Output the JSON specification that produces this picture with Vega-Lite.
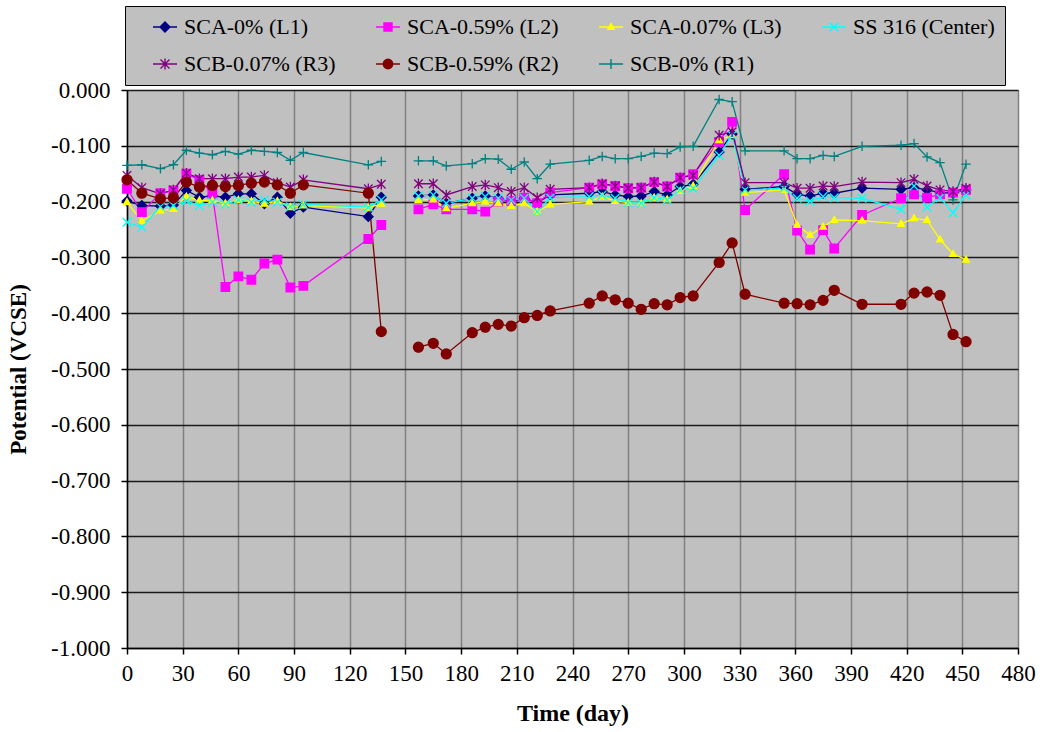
{
  "$schema": "https://vega.github.io/schema/vega-lite/v6.json",
  "width": 891,
  "height": 558,
  "autosize": {"type": "none"},
  "padding": {"left": 127, "top": 90, "right": 24, "bottom": 84},
  "background": "white",
  "config": {
    "view": {"fill": "#C0C0C0", "stroke": "#808080", "strokeWidth": 1},
    "font": "Liberation Serif"
  },
  "data": {"values": [
    {"s":"SCA-0% (L1)","d":0,"v":-0.199,"g":1},{"s":"SCA-0% (L1)","d":8,"v":-0.207,"g":1},{"s":"SCA-0% (L1)","d":18,"v":-0.208,"g":1},{"s":"SCA-0% (L1)","d":25,"v":-0.206,"g":1},{"s":"SCA-0% (L1)","d":32,"v":-0.180,"g":1},{"s":"SCA-0% (L1)","d":39,"v":-0.192,"g":1},{"s":"SCA-0% (L1)","d":46,"v":-0.190,"g":1},{"s":"SCA-0% (L1)","d":53,"v":-0.192,"g":1},{"s":"SCA-0% (L1)","d":60,"v":-0.186,"g":1},{"s":"SCA-0% (L1)","d":67,"v":-0.186,"g":1},{"s":"SCA-0% (L1)","d":74,"v":-0.204,"g":1},{"s":"SCA-0% (L1)","d":81,"v":-0.192,"g":1},{"s":"SCA-0% (L1)","d":88,"v":-0.221,"g":1},{"s":"SCA-0% (L1)","d":95,"v":-0.210,"g":1},{"s":"SCA-0% (L1)","d":130,"v":-0.227,"g":1},{"s":"SCA-0% (L1)","d":137,"v":-0.192,"g":1},
    {"s":"SCA-0% (L1)","d":157,"v":-0.190,"g":2},{"s":"SCA-0% (L1)","d":165,"v":-0.188,"g":2},{"s":"SCA-0% (L1)","d":172,"v":-0.203,"g":2},{"s":"SCA-0% (L1)","d":186,"v":-0.194,"g":2},{"s":"SCA-0% (L1)","d":193,"v":-0.190,"g":2},{"s":"SCA-0% (L1)","d":200,"v":-0.194,"g":2},{"s":"SCA-0% (L1)","d":207,"v":-0.199,"g":2},{"s":"SCA-0% (L1)","d":214,"v":-0.194,"g":2},{"s":"SCA-0% (L1)","d":221,"v":-0.202,"g":2},{"s":"SCA-0% (L1)","d":228,"v":-0.188,"g":2},{"s":"SCA-0% (L1)","d":249,"v":-0.185,"g":2},{"s":"SCA-0% (L1)","d":256,"v":-0.182,"g":2},{"s":"SCA-0% (L1)","d":263,"v":-0.188,"g":2},{"s":"SCA-0% (L1)","d":270,"v":-0.191,"g":2},{"s":"SCA-0% (L1)","d":277,"v":-0.190,"g":2},{"s":"SCA-0% (L1)","d":284,"v":-0.182,"g":2},{"s":"SCA-0% (L1)","d":291,"v":-0.188,"g":2},{"s":"SCA-0% (L1)","d":298,"v":-0.173,"g":2},{"s":"SCA-0% (L1)","d":305,"v":-0.169,"g":2},{"s":"SCA-0% (L1)","d":319,"v":-0.111,"g":2},{"s":"SCA-0% (L1)","d":326,"v":-0.079,"g":2},{"s":"SCA-0% (L1)","d":333,"v":-0.178,"g":2},{"s":"SCA-0% (L1)","d":354,"v":-0.173,"g":2},{"s":"SCA-0% (L1)","d":361,"v":-0.187,"g":2},{"s":"SCA-0% (L1)","d":368,"v":-0.190,"g":2},{"s":"SCA-0% (L1)","d":375,"v":-0.185,"g":2},{"s":"SCA-0% (L1)","d":381,"v":-0.185,"g":2},{"s":"SCA-0% (L1)","d":396,"v":-0.176,"g":2},{"s":"SCA-0% (L1)","d":417,"v":-0.178,"g":2},{"s":"SCA-0% (L1)","d":424,"v":-0.175,"g":2},{"s":"SCA-0% (L1)","d":431,"v":-0.179,"g":2},{"s":"SCA-0% (L1)","d":438,"v":-0.184,"g":2},{"s":"SCA-0% (L1)","d":445,"v":-0.185,"g":2},{"s":"SCA-0% (L1)","d":452,"v":-0.179,"g":2},

    {"s":"SCA-0.59% (L2)","d":0,"v":-0.177,"g":1},{"s":"SCA-0.59% (L2)","d":8,"v":-0.219,"g":1},{"s":"SCA-0.59% (L2)","d":18,"v":-0.185,"g":1},{"s":"SCA-0.59% (L2)","d":25,"v":-0.180,"g":1},{"s":"SCA-0.59% (L2)","d":32,"v":-0.150,"g":1},{"s":"SCA-0.59% (L2)","d":39,"v":-0.161,"g":1},{"s":"SCA-0.59% (L2)","d":46,"v":-0.186,"g":1},{"s":"SCA-0.59% (L2)","d":53,"v":-0.353,"g":1},{"s":"SCA-0.59% (L2)","d":60,"v":-0.334,"g":1},{"s":"SCA-0.59% (L2)","d":67,"v":-0.340,"g":1},{"s":"SCA-0.59% (L2)","d":74,"v":-0.311,"g":1},{"s":"SCA-0.59% (L2)","d":81,"v":-0.304,"g":1},{"s":"SCA-0.59% (L2)","d":88,"v":-0.354,"g":1},{"s":"SCA-0.59% (L2)","d":95,"v":-0.351,"g":1},{"s":"SCA-0.59% (L2)","d":130,"v":-0.267,"g":1},{"s":"SCA-0.59% (L2)","d":137,"v":-0.242,"g":1},
    {"s":"SCA-0.59% (L2)","d":157,"v":-0.214,"g":2},{"s":"SCA-0.59% (L2)","d":165,"v":-0.205,"g":2},{"s":"SCA-0.59% (L2)","d":172,"v":-0.214,"g":2},{"s":"SCA-0.59% (L2)","d":186,"v":-0.214,"g":2},{"s":"SCA-0.59% (L2)","d":193,"v":-0.218,"g":2},{"s":"SCA-0.59% (L2)","d":200,"v":-0.200,"g":2},{"s":"SCA-0.59% (L2)","d":207,"v":-0.199,"g":2},{"s":"SCA-0.59% (L2)","d":214,"v":-0.193,"g":2},{"s":"SCA-0.59% (L2)","d":221,"v":-0.203,"g":2},{"s":"SCA-0.59% (L2)","d":228,"v":-0.184,"g":2},{"s":"SCA-0.59% (L2)","d":249,"v":-0.175,"g":2},{"s":"SCA-0.59% (L2)","d":256,"v":-0.169,"g":2},{"s":"SCA-0.59% (L2)","d":263,"v":-0.172,"g":2},{"s":"SCA-0.59% (L2)","d":270,"v":-0.176,"g":2},{"s":"SCA-0.59% (L2)","d":277,"v":-0.175,"g":2},{"s":"SCA-0.59% (L2)","d":284,"v":-0.165,"g":2},{"s":"SCA-0.59% (L2)","d":291,"v":-0.173,"g":2},{"s":"SCA-0.59% (L2)","d":298,"v":-0.157,"g":2},{"s":"SCA-0.59% (L2)","d":305,"v":-0.151,"g":2},{"s":"SCA-0.59% (L2)","d":319,"v":-0.093,"g":2},{"s":"SCA-0.59% (L2)","d":326,"v":-0.057,"g":2},{"s":"SCA-0.59% (L2)","d":333,"v":-0.215,"g":2},{"s":"SCA-0.59% (L2)","d":354,"v":-0.151,"g":2},{"s":"SCA-0.59% (L2)","d":361,"v":-0.252,"g":2},{"s":"SCA-0.59% (L2)","d":368,"v":-0.286,"g":2},{"s":"SCA-0.59% (L2)","d":375,"v":-0.251,"g":2},{"s":"SCA-0.59% (L2)","d":381,"v":-0.284,"g":2},{"s":"SCA-0.59% (L2)","d":396,"v":-0.224,"g":2},{"s":"SCA-0.59% (L2)","d":417,"v":-0.194,"g":2},{"s":"SCA-0.59% (L2)","d":424,"v":-0.187,"g":2},{"s":"SCA-0.59% (L2)","d":431,"v":-0.193,"g":2},{"s":"SCA-0.59% (L2)","d":438,"v":-0.187,"g":2},{"s":"SCA-0.59% (L2)","d":445,"v":-0.184,"g":2},{"s":"SCA-0.59% (L2)","d":452,"v":-0.179,"g":2},

    {"s":"SCA-0.07% (L3)","d":0,"v":-0.201,"g":1},{"s":"SCA-0.07% (L3)","d":8,"v":-0.235,"g":1},{"s":"SCA-0.07% (L3)","d":18,"v":-0.216,"g":1},{"s":"SCA-0.07% (L3)","d":25,"v":-0.213,"g":1},{"s":"SCA-0.07% (L3)","d":32,"v":-0.191,"g":1},{"s":"SCA-0.07% (L3)","d":39,"v":-0.198,"g":1},{"s":"SCA-0.07% (L3)","d":46,"v":-0.198,"g":1},{"s":"SCA-0.07% (L3)","d":53,"v":-0.203,"g":1},{"s":"SCA-0.07% (L3)","d":60,"v":-0.197,"g":1},{"s":"SCA-0.07% (L3)","d":67,"v":-0.199,"g":1},{"s":"SCA-0.07% (L3)","d":74,"v":-0.204,"g":1},{"s":"SCA-0.07% (L3)","d":81,"v":-0.199,"g":1},{"s":"SCA-0.07% (L3)","d":88,"v":-0.210,"g":1},{"s":"SCA-0.07% (L3)","d":95,"v":-0.207,"g":1},{"s":"SCA-0.07% (L3)","d":130,"v":-0.211,"g":1},{"s":"SCA-0.07% (L3)","d":137,"v":-0.204,"g":1},
    {"s":"SCA-0.07% (L3)","d":157,"v":-0.197,"g":2},{"s":"SCA-0.07% (L3)","d":165,"v":-0.196,"g":2},{"s":"SCA-0.07% (L3)","d":172,"v":-0.212,"g":2},{"s":"SCA-0.07% (L3)","d":186,"v":-0.203,"g":2},{"s":"SCA-0.07% (L3)","d":193,"v":-0.200,"g":2},{"s":"SCA-0.07% (L3)","d":200,"v":-0.203,"g":2},{"s":"SCA-0.07% (L3)","d":207,"v":-0.208,"g":2},{"s":"SCA-0.07% (L3)","d":214,"v":-0.203,"g":2},{"s":"SCA-0.07% (L3)","d":221,"v":-0.218,"g":2},{"s":"SCA-0.07% (L3)","d":228,"v":-0.205,"g":2},{"s":"SCA-0.07% (L3)","d":249,"v":-0.200,"g":2},{"s":"SCA-0.07% (L3)","d":256,"v":-0.191,"g":2},{"s":"SCA-0.07% (L3)","d":263,"v":-0.199,"g":2},{"s":"SCA-0.07% (L3)","d":270,"v":-0.202,"g":2},{"s":"SCA-0.07% (L3)","d":277,"v":-0.203,"g":2},{"s":"SCA-0.07% (L3)","d":284,"v":-0.193,"g":2},{"s":"SCA-0.07% (L3)","d":291,"v":-0.196,"g":2},{"s":"SCA-0.07% (L3)","d":298,"v":-0.181,"g":2},{"s":"SCA-0.07% (L3)","d":305,"v":-0.172,"g":2},{"s":"SCA-0.07% (L3)","d":319,"v":-0.090,"g":2},{"s":"SCA-0.07% (L3)","d":326,"v":-0.081,"g":2},{"s":"SCA-0.07% (L3)","d":333,"v":-0.184,"g":2},{"s":"SCA-0.07% (L3)","d":354,"v":-0.179,"g":2},{"s":"SCA-0.07% (L3)","d":361,"v":-0.242,"g":2},{"s":"SCA-0.07% (L3)","d":368,"v":-0.260,"g":2},{"s":"SCA-0.07% (L3)","d":375,"v":-0.245,"g":2},{"s":"SCA-0.07% (L3)","d":381,"v":-0.233,"g":2},{"s":"SCA-0.07% (L3)","d":396,"v":-0.234,"g":2},{"s":"SCA-0.07% (L3)","d":417,"v":-0.240,"g":2},{"s":"SCA-0.07% (L3)","d":424,"v":-0.230,"g":2},{"s":"SCA-0.07% (L3)","d":431,"v":-0.233,"g":2},{"s":"SCA-0.07% (L3)","d":438,"v":-0.268,"g":2},{"s":"SCA-0.07% (L3)","d":445,"v":-0.294,"g":2},{"s":"SCA-0.07% (L3)","d":452,"v":-0.304,"g":2},

    {"s":"SS 316 (Center)","d":0,"v":-0.237,"g":1},{"s":"SS 316 (Center)","d":8,"v":-0.246,"g":1},{"s":"SS 316 (Center)","d":18,"v":-0.209,"g":1},{"s":"SS 316 (Center)","d":25,"v":-0.207,"g":1},{"s":"SS 316 (Center)","d":32,"v":-0.199,"g":1},{"s":"SS 316 (Center)","d":39,"v":-0.207,"g":1},{"s":"SS 316 (Center)","d":46,"v":-0.201,"g":1},{"s":"SS 316 (Center)","d":53,"v":-0.205,"g":1},{"s":"SS 316 (Center)","d":60,"v":-0.197,"g":1},{"s":"SS 316 (Center)","d":67,"v":-0.201,"g":1},{"s":"SS 316 (Center)","d":74,"v":-0.197,"g":1},{"s":"SS 316 (Center)","d":81,"v":-0.201,"g":1},{"s":"SS 316 (Center)","d":88,"v":-0.209,"g":1},{"s":"SS 316 (Center)","d":95,"v":-0.205,"g":1},{"s":"SS 316 (Center)","d":130,"v":-0.210,"g":1},{"s":"SS 316 (Center)","d":137,"v":-0.197,"g":1},
    {"s":"SS 316 (Center)","d":157,"v":-0.190,"g":2},{"s":"SS 316 (Center)","d":165,"v":-0.188,"g":2},{"s":"SS 316 (Center)","d":172,"v":-0.203,"g":2},{"s":"SS 316 (Center)","d":186,"v":-0.194,"g":2},{"s":"SS 316 (Center)","d":193,"v":-0.191,"g":2},{"s":"SS 316 (Center)","d":200,"v":-0.194,"g":2},{"s":"SS 316 (Center)","d":207,"v":-0.197,"g":2},{"s":"SS 316 (Center)","d":214,"v":-0.194,"g":2},{"s":"SS 316 (Center)","d":221,"v":-0.218,"g":2},{"s":"SS 316 (Center)","d":228,"v":-0.193,"g":2},{"s":"SS 316 (Center)","d":249,"v":-0.191,"g":2},{"s":"SS 316 (Center)","d":256,"v":-0.188,"g":2},{"s":"SS 316 (Center)","d":263,"v":-0.194,"g":2},{"s":"SS 316 (Center)","d":270,"v":-0.202,"g":2},{"s":"SS 316 (Center)","d":277,"v":-0.203,"g":2},{"s":"SS 316 (Center)","d":284,"v":-0.193,"g":2},{"s":"SS 316 (Center)","d":291,"v":-0.197,"g":2},{"s":"SS 316 (Center)","d":298,"v":-0.179,"g":2},{"s":"SS 316 (Center)","d":305,"v":-0.176,"g":2},{"s":"SS 316 (Center)","d":319,"v":-0.117,"g":2},{"s":"SS 316 (Center)","d":326,"v":-0.081,"g":2},{"s":"SS 316 (Center)","d":333,"v":-0.179,"g":2},{"s":"SS 316 (Center)","d":354,"v":-0.176,"g":2},{"s":"SS 316 (Center)","d":361,"v":-0.194,"g":2},{"s":"SS 316 (Center)","d":368,"v":-0.199,"g":2},{"s":"SS 316 (Center)","d":375,"v":-0.191,"g":2},{"s":"SS 316 (Center)","d":381,"v":-0.193,"g":2},{"s":"SS 316 (Center)","d":396,"v":-0.194,"g":2},{"s":"SS 316 (Center)","d":417,"v":-0.214,"g":2},{"s":"SS 316 (Center)","d":424,"v":-0.172,"g":2},{"s":"SS 316 (Center)","d":431,"v":-0.210,"g":2},{"s":"SS 316 (Center)","d":438,"v":-0.193,"g":2},{"s":"SS 316 (Center)","d":445,"v":-0.220,"g":2},{"s":"SS 316 (Center)","d":452,"v":-0.188,"g":2},

    {"s":"SCB-0.07% (R3)","d":0,"v":-0.153,"g":1},{"s":"SCB-0.07% (R3)","d":8,"v":-0.175,"g":1},{"s":"SCB-0.07% (R3)","d":18,"v":-0.186,"g":1},{"s":"SCB-0.07% (R3)","d":25,"v":-0.179,"g":1},{"s":"SCB-0.07% (R3)","d":32,"v":-0.149,"g":1},{"s":"SCB-0.07% (R3)","d":39,"v":-0.159,"g":1},{"s":"SCB-0.07% (R3)","d":46,"v":-0.159,"g":1},{"s":"SCB-0.07% (R3)","d":53,"v":-0.159,"g":1},{"s":"SCB-0.07% (R3)","d":60,"v":-0.156,"g":1},{"s":"SCB-0.07% (R3)","d":67,"v":-0.156,"g":1},{"s":"SCB-0.07% (R3)","d":74,"v":-0.153,"g":1},{"s":"SCB-0.07% (R3)","d":81,"v":-0.166,"g":1},{"s":"SCB-0.07% (R3)","d":88,"v":-0.174,"g":1},{"s":"SCB-0.07% (R3)","d":95,"v":-0.161,"g":1},{"s":"SCB-0.07% (R3)","d":130,"v":-0.177,"g":1},{"s":"SCB-0.07% (R3)","d":137,"v":-0.169,"g":1},
    {"s":"SCB-0.07% (R3)","d":157,"v":-0.168,"g":2},{"s":"SCB-0.07% (R3)","d":165,"v":-0.168,"g":2},{"s":"SCB-0.07% (R3)","d":172,"v":-0.188,"g":2},{"s":"SCB-0.07% (R3)","d":186,"v":-0.173,"g":2},{"s":"SCB-0.07% (R3)","d":193,"v":-0.170,"g":2},{"s":"SCB-0.07% (R3)","d":200,"v":-0.175,"g":2},{"s":"SCB-0.07% (R3)","d":207,"v":-0.182,"g":2},{"s":"SCB-0.07% (R3)","d":214,"v":-0.175,"g":2},{"s":"SCB-0.07% (R3)","d":221,"v":-0.193,"g":2},{"s":"SCB-0.07% (R3)","d":228,"v":-0.178,"g":2},{"s":"SCB-0.07% (R3)","d":249,"v":-0.175,"g":2},{"s":"SCB-0.07% (R3)","d":256,"v":-0.168,"g":2},{"s":"SCB-0.07% (R3)","d":263,"v":-0.172,"g":2},{"s":"SCB-0.07% (R3)","d":270,"v":-0.176,"g":2},{"s":"SCB-0.07% (R3)","d":277,"v":-0.175,"g":2},{"s":"SCB-0.07% (R3)","d":284,"v":-0.165,"g":2},{"s":"SCB-0.07% (R3)","d":291,"v":-0.173,"g":2},{"s":"SCB-0.07% (R3)","d":298,"v":-0.157,"g":2},{"s":"SCB-0.07% (R3)","d":305,"v":-0.153,"g":2},{"s":"SCB-0.07% (R3)","d":319,"v":-0.081,"g":2},{"s":"SCB-0.07% (R3)","d":326,"v":-0.075,"g":2},{"s":"SCB-0.07% (R3)","d":333,"v":-0.166,"g":2},{"s":"SCB-0.07% (R3)","d":354,"v":-0.166,"g":2},{"s":"SCB-0.07% (R3)","d":361,"v":-0.176,"g":2},{"s":"SCB-0.07% (R3)","d":368,"v":-0.176,"g":2},{"s":"SCB-0.07% (R3)","d":375,"v":-0.172,"g":2},{"s":"SCB-0.07% (R3)","d":381,"v":-0.173,"g":2},{"s":"SCB-0.07% (R3)","d":396,"v":-0.165,"g":2},{"s":"SCB-0.07% (R3)","d":417,"v":-0.166,"g":2},{"s":"SCB-0.07% (R3)","d":424,"v":-0.160,"g":2},{"s":"SCB-0.07% (R3)","d":431,"v":-0.172,"g":2},{"s":"SCB-0.07% (R3)","d":438,"v":-0.179,"g":2},{"s":"SCB-0.07% (R3)","d":445,"v":-0.182,"g":2},{"s":"SCB-0.07% (R3)","d":452,"v":-0.176,"g":2},

    {"s":"SCB-0.59% (R2)","d":0,"v":-0.161,"g":1},{"s":"SCB-0.59% (R2)","d":8,"v":-0.185,"g":1},{"s":"SCB-0.59% (R2)","d":18,"v":-0.195,"g":1},{"s":"SCB-0.59% (R2)","d":25,"v":-0.193,"g":1},{"s":"SCB-0.59% (R2)","d":32,"v":-0.165,"g":1},{"s":"SCB-0.59% (R2)","d":39,"v":-0.174,"g":1},{"s":"SCB-0.59% (R2)","d":46,"v":-0.171,"g":1},{"s":"SCB-0.59% (R2)","d":53,"v":-0.173,"g":1},{"s":"SCB-0.59% (R2)","d":60,"v":-0.171,"g":1},{"s":"SCB-0.59% (R2)","d":67,"v":-0.167,"g":1},{"s":"SCB-0.59% (R2)","d":74,"v":-0.165,"g":1},{"s":"SCB-0.59% (R2)","d":81,"v":-0.170,"g":1},{"s":"SCB-0.59% (R2)","d":88,"v":-0.185,"g":1},{"s":"SCB-0.59% (R2)","d":95,"v":-0.170,"g":1},{"s":"SCB-0.59% (R2)","d":130,"v":-0.185,"g":1},{"s":"SCB-0.59% (R2)","d":137,"v":-0.433,"g":1},
    {"s":"SCB-0.59% (R2)","d":157,"v":-0.461,"g":2},{"s":"SCB-0.59% (R2)","d":165,"v":-0.454,"g":2},{"s":"SCB-0.59% (R2)","d":172,"v":-0.473,"g":2},{"s":"SCB-0.59% (R2)","d":186,"v":-0.435,"g":2},{"s":"SCB-0.59% (R2)","d":193,"v":-0.425,"g":2},{"s":"SCB-0.59% (R2)","d":200,"v":-0.420,"g":2},{"s":"SCB-0.59% (R2)","d":207,"v":-0.423,"g":2},{"s":"SCB-0.59% (R2)","d":214,"v":-0.408,"g":2},{"s":"SCB-0.59% (R2)","d":221,"v":-0.404,"g":2},{"s":"SCB-0.59% (R2)","d":228,"v":-0.396,"g":2},{"s":"SCB-0.59% (R2)","d":249,"v":-0.382,"g":2},{"s":"SCB-0.59% (R2)","d":256,"v":-0.369,"g":2},{"s":"SCB-0.59% (R2)","d":263,"v":-0.376,"g":2},{"s":"SCB-0.59% (R2)","d":270,"v":-0.382,"g":2},{"s":"SCB-0.59% (R2)","d":277,"v":-0.393,"g":2},{"s":"SCB-0.59% (R2)","d":284,"v":-0.383,"g":2},{"s":"SCB-0.59% (R2)","d":291,"v":-0.385,"g":2},{"s":"SCB-0.59% (R2)","d":298,"v":-0.372,"g":2},{"s":"SCB-0.59% (R2)","d":305,"v":-0.369,"g":2},{"s":"SCB-0.59% (R2)","d":319,"v":-0.309,"g":2},{"s":"SCB-0.59% (R2)","d":326,"v":-0.274,"g":2},{"s":"SCB-0.59% (R2)","d":333,"v":-0.366,"g":2},{"s":"SCB-0.59% (R2)","d":354,"v":-0.382,"g":2},{"s":"SCB-0.59% (R2)","d":361,"v":-0.383,"g":2},{"s":"SCB-0.59% (R2)","d":368,"v":-0.385,"g":2},{"s":"SCB-0.59% (R2)","d":375,"v":-0.377,"g":2},{"s":"SCB-0.59% (R2)","d":381,"v":-0.359,"g":2},{"s":"SCB-0.59% (R2)","d":396,"v":-0.384,"g":2},{"s":"SCB-0.59% (R2)","d":417,"v":-0.384,"g":2},{"s":"SCB-0.59% (R2)","d":424,"v":-0.364,"g":2},{"s":"SCB-0.59% (R2)","d":431,"v":-0.362,"g":2},{"s":"SCB-0.59% (R2)","d":438,"v":-0.368,"g":2},{"s":"SCB-0.59% (R2)","d":445,"v":-0.438,"g":2},{"s":"SCB-0.59% (R2)","d":452,"v":-0.451,"g":2},

    {"s":"SCB-0% (R1)","d":0,"v":-0.135,"g":1},{"s":"SCB-0% (R1)","d":8,"v":-0.134,"g":1},{"s":"SCB-0% (R1)","d":18,"v":-0.141,"g":1},{"s":"SCB-0% (R1)","d":25,"v":-0.134,"g":1},{"s":"SCB-0% (R1)","d":32,"v":-0.108,"g":1},{"s":"SCB-0% (R1)","d":39,"v":-0.113,"g":1},{"s":"SCB-0% (R1)","d":46,"v":-0.116,"g":1},{"s":"SCB-0% (R1)","d":53,"v":-0.110,"g":1},{"s":"SCB-0% (R1)","d":60,"v":-0.115,"g":1},{"s":"SCB-0% (R1)","d":67,"v":-0.108,"g":1},{"s":"SCB-0% (R1)","d":74,"v":-0.110,"g":1},{"s":"SCB-0% (R1)","d":81,"v":-0.112,"g":1},{"s":"SCB-0% (R1)","d":88,"v":-0.126,"g":1},{"s":"SCB-0% (R1)","d":95,"v":-0.112,"g":1},{"s":"SCB-0% (R1)","d":130,"v":-0.134,"g":1},{"s":"SCB-0% (R1)","d":137,"v":-0.128,"g":1},
    {"s":"SCB-0% (R1)","d":157,"v":-0.127,"g":2},{"s":"SCB-0% (R1)","d":165,"v":-0.127,"g":2},{"s":"SCB-0% (R1)","d":172,"v":-0.136,"g":2},{"s":"SCB-0% (R1)","d":186,"v":-0.132,"g":2},{"s":"SCB-0% (R1)","d":193,"v":-0.123,"g":2},{"s":"SCB-0% (R1)","d":200,"v":-0.124,"g":2},{"s":"SCB-0% (R1)","d":207,"v":-0.142,"g":2},{"s":"SCB-0% (R1)","d":214,"v":-0.129,"g":2},{"s":"SCB-0% (R1)","d":221,"v":-0.159,"g":2},{"s":"SCB-0% (R1)","d":228,"v":-0.133,"g":2},{"s":"SCB-0% (R1)","d":249,"v":-0.126,"g":2},{"s":"SCB-0% (R1)","d":256,"v":-0.119,"g":2},{"s":"SCB-0% (R1)","d":263,"v":-0.123,"g":2},{"s":"SCB-0% (R1)","d":270,"v":-0.123,"g":2},{"s":"SCB-0% (R1)","d":277,"v":-0.119,"g":2},{"s":"SCB-0% (R1)","d":284,"v":-0.113,"g":2},{"s":"SCB-0% (R1)","d":291,"v":-0.114,"g":2},{"s":"SCB-0% (R1)","d":298,"v":-0.102,"g":2},{"s":"SCB-0% (R1)","d":305,"v":-0.101,"g":2},{"s":"SCB-0% (R1)","d":319,"v":-0.017,"g":2},{"s":"SCB-0% (R1)","d":326,"v":-0.021,"g":2},{"s":"SCB-0% (R1)","d":333,"v":-0.109,"g":2},{"s":"SCB-0% (R1)","d":354,"v":-0.109,"g":2},{"s":"SCB-0% (R1)","d":361,"v":-0.123,"g":2},{"s":"SCB-0% (R1)","d":368,"v":-0.123,"g":2},{"s":"SCB-0% (R1)","d":375,"v":-0.117,"g":2},{"s":"SCB-0% (R1)","d":381,"v":-0.119,"g":2},{"s":"SCB-0% (R1)","d":396,"v":-0.101,"g":2},{"s":"SCB-0% (R1)","d":417,"v":-0.099,"g":2},{"s":"SCB-0% (R1)","d":424,"v":-0.096,"g":2},{"s":"SCB-0% (R1)","d":431,"v":-0.120,"g":2},{"s":"SCB-0% (R1)","d":438,"v":-0.130,"g":2},{"s":"SCB-0% (R1)","d":445,"v":-0.197,"g":2},{"s":"SCB-0% (R1)","d":452,"v":-0.133,"g":2}
  ]},
  "encoding": {
    "x": {
      "field": "d", "type": "quantitative",
      "scale": {"domain": [0, 480], "nice": false, "zero": false},
      "axis": {
        "values": [0,30,60,90,120,150,180,210,240,270,300,330,360,390,420,450,480],
        "title": "Time (day)",
        "titleFont": "Liberation Serif", "titleFontSize": 24, "titleFontWeight": "bold", "titleColor": "black", "titlePadding": 16,
        "labelFont": "Liberation Serif", "labelFontSize": 23, "labelColor": "black", "labelPadding": 8, "labelFlush": false,
        "domainColor": "black", "domainWidth": 1.5, "tickColor": "black", "tickWidth": 1.5, "tickSize": 6,
        "grid": true, "gridColor": "#808080", "gridWidth": 1.5
      }
    },
    "y": {
      "field": "v", "type": "quantitative",
      "scale": {"domain": [-1, 0], "nice": false, "zero": false},
      "axis": {
        "values": [-1,-0.9,-0.8,-0.7,-0.6,-0.5,-0.4,-0.3,-0.2,-0.1,0],
        "labelExpr": "replace(format(datum.value, '.3f'), '\u2212', '-')",
        "title": "Potential (VCSE)",
        "titleFont": "Liberation Serif", "titleFontSize": 23, "titleFontWeight": "bold", "titleColor": "black", "titlePadding": 20,
        "labelFont": "Liberation Serif", "labelFontSize": 23, "labelColor": "black", "labelPadding": 11, "labelFlush": false,
        "domainColor": "black", "domainWidth": 1.5, "tickColor": "black", "tickWidth": 1.5, "tickSize": 6,
        "grid": true, "gridColor": "#1a1a1a", "gridWidth": 1.5
      }
    }
  },
  "layer": [
    {
      "mark": {"type": "line", "strokeWidth": 1.3},
      "encoding": {
        "color": {
          "field": "s", "type": "nominal",
          "scale": {
            "domain": ["SCA-0% (L1)","SCA-0.59% (L2)","SCA-0.07% (L3)","SS 316 (Center)","SCB-0.07% (R3)","SCB-0.59% (R2)","SCB-0% (R1)"],
            "range": ["#000080","#FF00FF","#FFFF00","#00FFFF","#800080","#800000","#008080"]
          },
          "legend": {
            "title": null,
            "orient": "none", "legendX": -2, "legendY": -84,
            "direction": "horizontal", "columns": 4, "gridAlign": "all",
            "fillColor": "#C0C0C0", "strokeColor": "black",
            "padding": 10, "columnPadding": 22, "rowPadding": 15,
            "labelFont": "Liberation Serif", "labelFontSize": 22, "labelColor": "black", "labelLimit": 300,
            "symbolSize": 100, "symbolOffset": 19, "labelOffset": 8, "symbolStrokeWidth": 1.4, "symbolOpacity": 1
          }
        },
        "detail": {"field": "g", "type": "nominal"}
      }
    },
    {
      "transform": [{"filter": {"field": "s", "equal": "SCA-0% (L1)"}}],
      "mark": {"type": "point", "shape": "M0,-1L1,0L0,1L-1,0Z", "filled": true, "fill": "#000080", "stroke": "#000080", "strokeWidth": 1.3, "size": 90, "opacity": 1}
    },
    {
      "transform": [{"filter": {"field": "s", "equal": "SCA-0.59% (L2)"}}],
      "mark": {"type": "point", "shape": "M-0.9,-0.9H0.9V0.9H-0.9Z", "filled": true, "fill": "#FF00FF", "stroke": "#FF00FF", "strokeWidth": 1.3, "size": 90, "opacity": 1}
    },
    {
      "transform": [{"filter": {"field": "s", "equal": "SCA-0.07% (L3)"}}],
      "mark": {"type": "point", "shape": "M0,-0.75L0.7,0.5H-0.7Z", "filled": true, "fill": "#FFFF00", "stroke": "#FFFF00", "strokeWidth": 1.3, "size": 90, "opacity": 1}
    },
    {
      "transform": [{"filter": {"field": "s", "equal": "SS 316 (Center)"}}],
      "mark": {"type": "point", "shape": "M-0.9,-0.9L0.9,0.9M-0.9,0.9L0.9,-0.9", "filled": true, "fill": "#00FFFF", "stroke": "#00FFFF", "strokeWidth": 1.3, "size": 90, "opacity": 1}
    },
    {
      "transform": [{"filter": {"field": "s", "equal": "SCB-0.07% (R3)"}}],
      "mark": {"type": "point", "shape": "M-0.9,-0.9L0.9,0.9M-0.9,0.9L0.9,-0.9M0,-1.1V1.1", "filled": true, "fill": "#800080", "stroke": "#800080", "strokeWidth": 1.3, "size": 90, "opacity": 1}
    },
    {
      "transform": [{"filter": {"field": "s", "equal": "SCB-0.59% (R2)"}}],
      "mark": {"type": "point", "shape": "M1.05,0A1.05,1.05 0 1,1 -1.05,0A1.05,1.05 0 1,1 1.05,0Z", "filled": true, "fill": "#800000", "stroke": "#800000", "strokeWidth": 1.3, "size": 90, "opacity": 1}
    },
    {
      "transform": [{"filter": {"field": "s", "equal": "SCB-0% (R1)"}}],
      "mark": {"type": "point", "shape": "M-1,0H1M0,-1V1", "filled": true, "fill": "#008080", "stroke": "#008080", "strokeWidth": 1.3, "size": 90, "opacity": 1}
    },
    {
      "transform": [{"filter": {"field": "d", "lt": -1}}],
      "mark": {"type": "point", "filled": true, "size": 90, "strokeWidth": 1.3, "opacity": 1},
      "encoding": {
        "color": {"field": "s", "type": "nominal"},
        "stroke": {
          "field": "s", "type": "nominal",
          "scale": {
            "domain": ["SCA-0% (L1)","SCA-0.59% (L2)","SCA-0.07% (L3)","SS 316 (Center)","SCB-0.07% (R3)","SCB-0.59% (R2)","SCB-0% (R1)"],
            "range": ["#000080","#FF00FF","#FFFF00","#00FFFF","#800080","#800000","#008080"]
          },
          "legend": null
        },
        "shape": {
          "field": "s", "type": "nominal",
          "scale": {
            "domain": ["SCA-0% (L1)","SCA-0.59% (L2)","SCA-0.07% (L3)","SS 316 (Center)","SCB-0.07% (R3)","SCB-0.59% (R2)","SCB-0% (R1)"],
            "range": [
              "M0,-1L1,0L0,1L-1,0ZM-2.4,0H2.4",
              "M-0.8,-0.8H0.8V0.8H-0.8ZM-2.4,0H2.4",
              "M0,-0.7L0.65,0.45H-0.65ZM-2.4,0H2.4",
              "M-0.9,-0.9L0.9,0.9M-0.9,0.9L0.9,-0.9M-2.4,0H2.4",
              "M-0.9,-0.9L0.9,0.9M-0.9,0.9L0.9,-0.9M0,-1.1V1.1M-2.4,0H2.4",
              "M0.95,0A0.95,0.95 0 1,1 -0.95,0A0.95,0.95 0 1,1 0.95,0ZM-2.4,0H2.4",
              "M-1,0H1M0,-1V1M-2.4,0H2.4"
            ]
          }
        }
      }
    }
  ]
}
